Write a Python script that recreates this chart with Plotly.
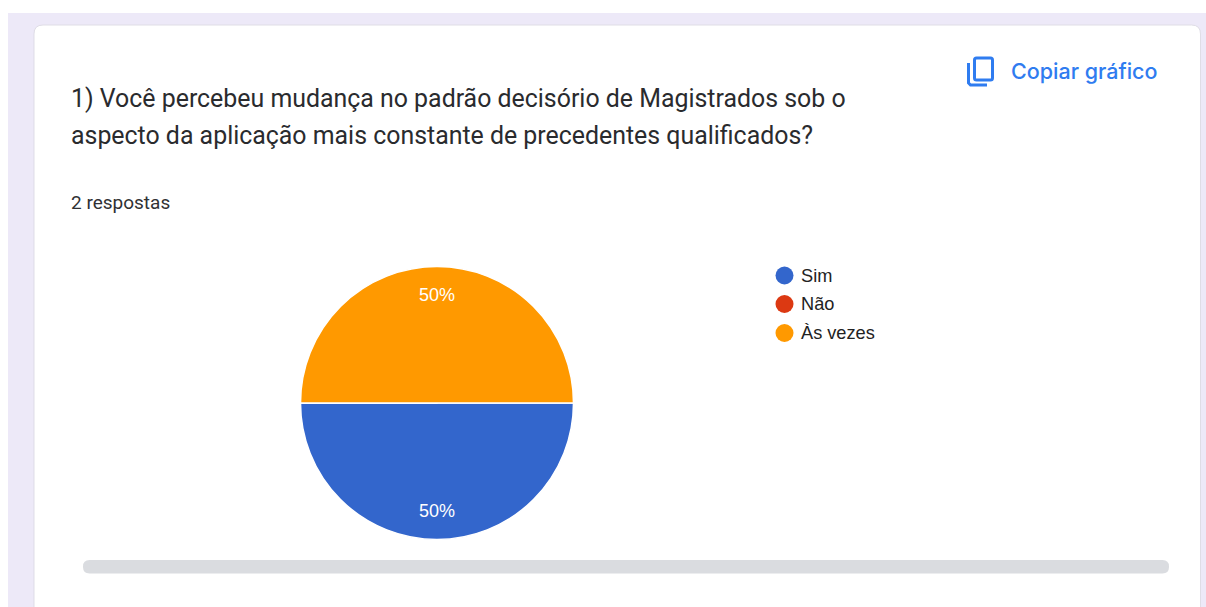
import math
import plotly.graph_objects as go

W, H = 1206, 607

categories = ["Sim", "Não", "Às vezes"]
values = [1, 0, 1]
colors = ["#3366cc", "#dc3912", "#ff9900"]
title_lines = [
    "1) Você percebeu mudança no padrão decisório de Magistrados sob o",
    "aspecto da aplicação mais constante de precedentes qualificados?",
]
subtitle = "2 respostas"
copy_label = "Copiar gráfico"


def X(px):
    return px / W


def Y(py):
    return 1 - py / H


def paper_text(x, y, text, size, color, family="Roboto", xanchor="left", weight="normal"):
    return dict(
        x=X(x), y=Y(y), xref="paper", yref="paper", text=text, showarrow=False,
        xanchor=xanchor, yanchor="middle", align="left",
        borderpad=0, borderwidth=0,
        font=dict(family=family, size=size, color=color, weight=weight),
    )


def paper_path(path, fill=None, line=None, width=0, layer="below"):
    return dict(
        type="path", xref="paper", yref="paper", path=path, layer=layer,
        fillcolor=fill or "rgba(0,0,0,0)",
        line=dict(color=line or "rgba(0,0,0,0)", width=width),
    )


def rounded(x0, y0, x1, y1, r):
    pts = [
        (x0 + r, y0), (x1 - r, y0), (x1, y0), (x1, y0 + r), (x1, y1 - r), (x1, y1),
        (x1 - r, y1), (x0 + r, y1), (x0, y1), (x0, y1 - r), (x0, y0 + r), (x0, y0), (x0 + r, y0),
    ]
    f = [f"{X(a):.5f},{Y(b):.5f}" for a, b in pts]
    return (f"M{f[0]} L{f[1]} Q{f[2]} {f[3]} L{f[4]} Q{f[5]} {f[6]} L{f[7]} "
            f"Q{f[8]} {f[9]} L{f[10]} Q{f[11]} {f[12]} Z")


def open_path(pts):
    return "M" + " L".join(f"{X(a):.5f},{Y(b):.5f}" for a, b in pts)


shapes = [
    # page background and card
    dict(type="rect", xref="paper", yref="paper", x0=X(8), x1=1, y0=0, y1=Y(13),
         fillcolor="#ede9f8", line=dict(width=0), layer="below"),
    paper_path(rounded(34, 25, 1200.5, 640, 9), fill="#ffffff", line="#dfdde6", width=1),
    # scroll bar
    paper_path(rounded(83, 560, 1169, 573.5, 6.5), fill="#dadce0"),
    # copy icon
    paper_path(rounded(974.5, 58, 992.5, 80, 2), line="#2f7cf0", width=3),
    paper_path(open_path([(968.5, 63), (968.5, 83), (970.5, 85), (987, 85)]), line="#2f7cf0", width=3),
]

legend_y = [275.5, 304, 333]
annotations = [
    paper_text(71, 98.5, title_lines[0], 24.9, "#2a2b2e"),
    paper_text(71, 135.5, title_lines[1], 24.9, "#2a2b2e"),
    paper_text(71, 202.5, subtitle, 19, "#303134"),
    paper_text(1011, 71, copy_label, 21.5, "#2f7cf0", family="Inter", weight=500),
]
for name, color, ly in zip(categories, colors, legend_y):
    shapes.append(dict(type="circle", xref="paper", yref="paper",
                       x0=X(775.5), x1=X(793.5), y0=Y(ly + 9), y1=Y(ly - 9),
                       fillcolor=color, line=dict(width=0)))
    annotations.append(paper_text(801, ly, name, 18.2, "#222222", family="Liberation Sans"))

# Percent labels sit near the rim, at each slice's mid angle
cx, cy, label_r = 437, 403, 108
total = sum(values)
angle = 90.0  # start at three o'clock, clockwise
for v in values:
    sweep = 360 * v / total
    if v:
        mid = math.radians(angle + sweep / 2)
        annotations.append(paper_text(
            cx + label_r * math.sin(mid), cy - label_r * math.cos(mid),
            f"{v / total:.0%}", 18, "#ffffff", family="Liberation Sans", xanchor="center",
        ))
    angle += sweep

fig = go.Figure(go.Pie(
    labels=categories,
    values=values,
    sort=False,
    direction="clockwise",
    rotation=90,
    marker=dict(colors=colors, line=dict(color="#ffffff", width=1.5)),
    textinfo="none",
    domain=dict(x=[X(300.5), X(573.5)], y=[Y(539.5), Y(266.5)]),
    showlegend=False,
    hoverinfo="skip",
))
fig.update_layout(
    width=W, height=H, margin=dict(l=0, r=0, t=0, b=0),
    paper_bgcolor="#ffffff", plot_bgcolor="#ffffff",
    shapes=shapes, annotations=annotations,
)
fig.write_html(
    "out.html",
    config={"displayModeBar": False},
    post_script="document.body.style.margin='0';document.body.style.overflow='hidden';",
)
